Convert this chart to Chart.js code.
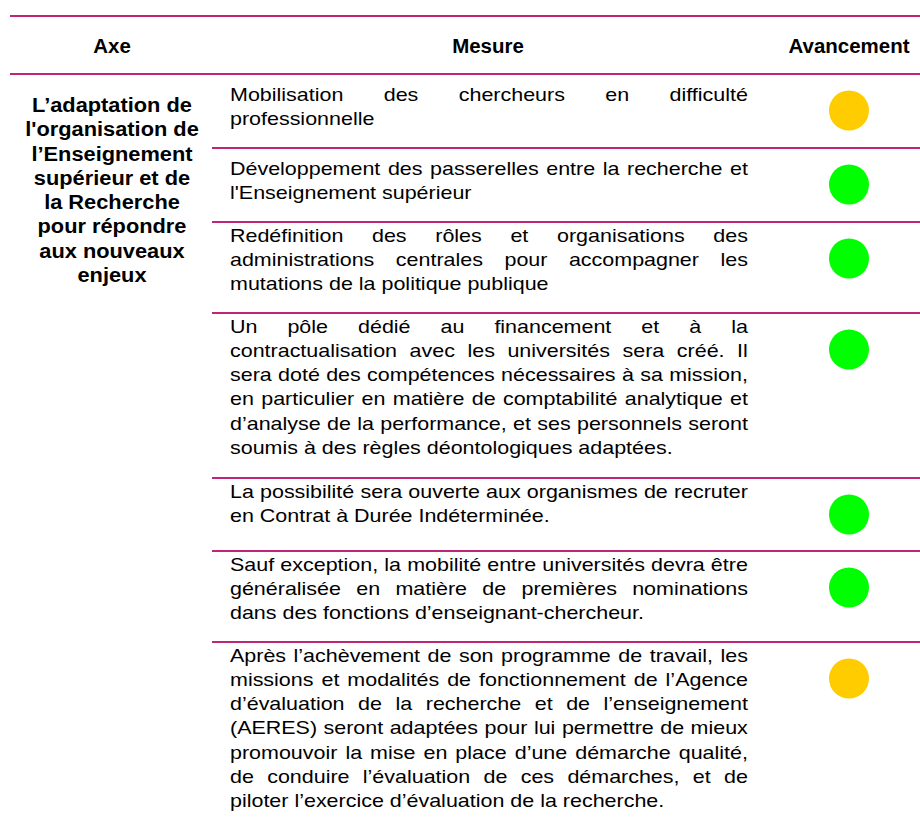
<!DOCTYPE html>
<html lang="fr">
<head>
<meta charset="utf-8">
<title>Avancement des mesures</title>
<script src="https://cdn.jsdelivr.net/npm/chart.js@4"></script>
<style>
  html, body { margin: 0; padding: 0; background: #fff; }
  #page {
    position: relative;
    width: 920px;
    height: 820px;
    overflow: hidden;
    font-family: "Liberation Sans", Arial, sans-serif;
    color: #000;
  }
  .rule { position: absolute; left: 10px; right: 0; height: 2px; background: #bd2677; }
  .head {
    position: absolute;
    top: 34px;
    font-weight: bold;
    font-size: 19.5px;
    line-height: 24.3px;
    white-space: nowrap;
    transform: translateX(-50%) scaleX(1.05);
  }
  #axe {
    position: absolute;
    left: 10px;
    top: 93px;
    width: 204px;
    text-align: center;
    font-weight: bold;
    font-size: 20px;
    line-height: 24.3px;
    white-space: nowrap;
    transform: scaleX(1.09);
    transform-origin: center top;
  }
  #rows { position: absolute; top: 73px; left: 212px; width: 708px; }
  .row { position: relative; border-top: 2px solid #bd2677; }
  .row:nth-child(1), .row:nth-child(2) { height: 72px; }
  .row:nth-child(3), .row:nth-child(6) { height: 89px; }
  .row:nth-child(4) { height: 163px; }
  .row:nth-child(5) { height: 71px; }
  .row:nth-child(7) { height: 180px; }
  .text {
    position: absolute;
    left: 18px;
    top: 0.5px;
    width: 446.5px; /* 518 / 1.16 */
    font-size: 18.5px;
    line-height: 24.3px;
    transform: scaleX(1.16);
    transform-origin: left top;
  }
  .row:nth-child(1) .text, .row:nth-child(2) .text { top: 8px; }
  .line { display: flex; justify-content: space-between; white-space: nowrap; }
  .line.last { display: block; }
  .dot { position: absolute; left: 597px; top: 0; width: 80px; height: 71px; }
</style>
</head>
<body>
<div id="page">
  <div class="rule" style="top:15px"></div>
  <div class="rule" style="top:73px"></div>
  <div class="head" style="left:112px">Axe</div>
  <div class="head" style="left:488px">Mesure</div>
  <div class="head" style="left:849px">Avancement</div>
  <div id="axe"></div>
  <div id="rows"></div>
</div>
<script>
const axeLines = [
  "L’adaptation de",
  "l'organisation de",
  "l’Enseignement",
  "supérieur et de",
  "la Recherche",
  "pour répondre",
  "aux nouveaux",
  "enjeux"
];

const mesures = [
  ["Mobilisation des chercheurs en difficulté",
   "professionnelle"],
  ["Développement des passerelles entre la recherche et",
   "l'Enseignement supérieur"],
  ["Redéfinition des rôles et organisations des",
   "administrations centrales pour accompagner les",
   "mutations de la politique publique"],
  ["Un pôle dédié au financement et à la",
   "contractualisation avec les universités sera créé. Il",
   "sera doté des compétences nécessaires à sa mission,",
   "en particulier en matière de comptabilité analytique et",
   "d’analyse de la performance, et ses personnels seront",
   "soumis à des règles déontologiques adaptées."],
  ["La possibilité sera ouverte aux organismes de recruter",
   "en Contrat à Durée Indéterminée."],
  ["Sauf exception, la mobilité entre universités devra être",
   "généralisée en matière de premières nominations",
   "dans des fonctions d’enseignant-chercheur."],
  ["Après l’achèvement de son programme de travail, les",
   "missions et modalités de fonctionnement de l’Agence",
   "d’évaluation de la recherche et de l’enseignement",
   "(AERES) seront adaptées pour lui permettre de mieux",
   "promouvoir la mise en place d’une démarche qualité,",
   "de conduire l’évaluation de ces démarches, et de",
   "piloter l’exercice d’évaluation de la recherche."]
];

const avancement = ["en cours", "réalisé", "réalisé", "réalisé", "réalisé", "réalisé", "en cours"];

const statusColors = {
  "réalisé": "#00ff00",
  "en cours": "#ffcc00"
};

document.getElementById('axe').innerHTML = axeLines.join('<br>');

const rowsEl = document.getElementById('rows');

mesures.forEach((lines, i) => {
  const row = document.createElement('div');
  row.className = 'row';

  const text = document.createElement('div');
  text.className = 'text';
  lines.forEach((l, j) => {
    const line = document.createElement('div');
    if (j === lines.length - 1) {
      line.className = 'line last';
      line.textContent = l;
    } else {
      line.className = 'line';
      l.split(' ').forEach(w => {
        const span = document.createElement('span');
        span.textContent = w;
        line.appendChild(span);
      });
    }
    text.appendChild(line);
  });
  row.appendChild(text);

  const box = document.createElement('div');
  box.className = 'dot';
  const canvas = document.createElement('canvas');
  box.appendChild(canvas);
  row.appendChild(box);
  rowsEl.appendChild(row);

  const color = statusColors[avancement[i]];
  new Chart(canvas, {
    type: 'scatter',
    data: {
      datasets: [{
        label: avancement[i],
        data: [{ x: 0, y: 0 }],
        pointRadius: 20,
        pointHoverRadius: 20,
        backgroundColor: color,
        borderColor: color,
        borderWidth: 0,
        clip: false
      }]
    },
    options: {
      responsive: true,
      maintainAspectRatio: false,
      animation: false,
      events: [],
      layout: { padding: 0 },
      scales: {
        x: { display: false, min: -1, max: 1 },
        y: { display: false, min: -1, max: 1 }
      },
      plugins: {
        legend: { display: false },
        tooltip: { enabled: false }
      }
    }
  });
});
</script>
</body>
</html>
